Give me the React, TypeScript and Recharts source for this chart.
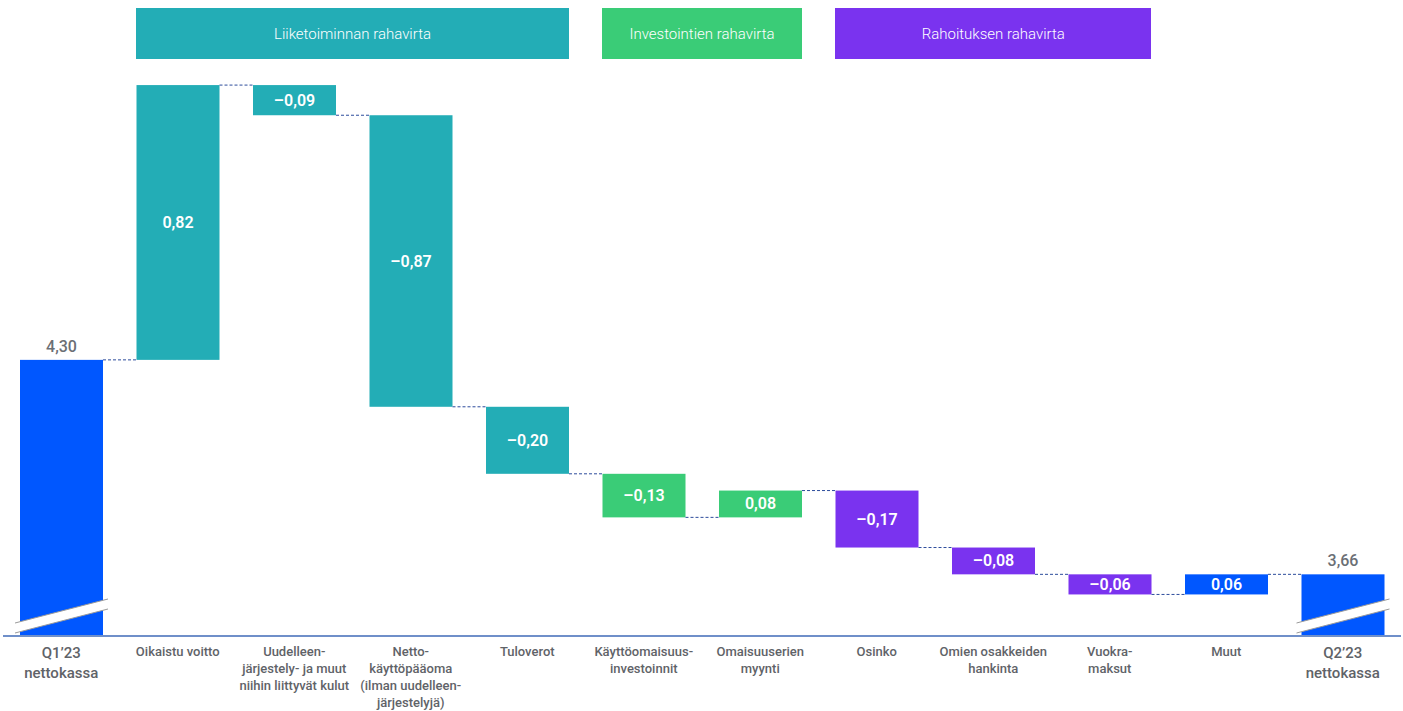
import { BarChart, Bar, XAxis, YAxis } from 'recharts'

const categories = [
  'Q1’23\nnettokassa',
  'Oikaistu voitto',
  'Uudelleen-\njärjestely- ja muut\nniihin liittyvät kulut',
  'Netto-\nkäyttöpääoma\n(ilman uudelleen-\njärjestelyjä)',
  'Tuloverot',
  'Käyttöomaisuus-\ninvestoinnit',
  'Omaisuuserien\nmyynti',
  'Osinko',
  'Omien osakkeiden\nhankinta',
  'Vuokra-\nmaksut',
  'Muut',
  'Q2’23\nnettokassa',
]
const values = [4.3, 0.82, -0.09, -0.87, -0.2, -0.13, 0.08, -0.17, -0.08, -0.06, 0.06, 3.66]
const kinds = ['total', 'op', 'op', 'op', 'op', 'inv', 'inv', 'fin', 'fin', 'fin', 'other', 'total']

const groupLabels = ['Liiketoiminnan rahavirta', 'Investointien rahavirta', 'Rahoituksen rahavirta']
const groupKinds = ['op', 'inv', 'fin']

const colors: Record<string, string> = {
  total: '#0057ff',
  other: '#0057ff',
  op: '#23adb6',
  inv: '#3acc77',
  fin: '#7a33ef',
}

// broken axis: bottom of the plot is not zero
const Y_MIN = 3.476
const Y_MAX = 5.165

const W = 1403
const H = 711
const AXIS_H = 75
const MARGIN = { top: 70, right: 2, bottom: 0, left: 3 }
const BAND = (W - MARGIN.left - MARGIN.right) / categories.length
const BAR_W = 83
const FONT = 'Roboto, "Noto Sans", sans-serif'

let running = 0
const data = categories.map((name, i) => {
  const v = values[i]
  const kind = kinds[i]
  if (kind === 'total') {
    running = v
    return { name, value: v, kind, range: [Y_MIN, v] }
  }
  const start = running
  running = Math.round((running + v) * 100) / 100
  return { name, value: v, kind, range: [Math.min(start, running), Math.max(start, running)] }
})

const fmt = (v: number) => (v < 0 ? '–' : '') + Math.abs(v).toFixed(2).replace('.', ',')

function WaterfallShape(props: any) {
  const { x, y, width, height, payload, index } = props
  const top = Math.min(y, y + height)
  const h = Math.abs(height)
  const bottom = top + h
  const isTotal = payload.kind === 'total'
  const endY = isTotal || payload.value >= 0 ? top : bottom
  const last = index === data.length - 1
  const gap = BAND - BAR_W
  return (
    <g>
      <rect x={x} y={top} width={width} height={h} fill={colors[payload.kind]} />
      {!last && (
        <line
          x1={x + width}
          x2={x + width + gap}
          y1={endY}
          y2={endY}
          stroke="#2d4c9c"
          strokeWidth={1}
          strokeDasharray="3 2"
        />
      )}
      {isTotal ? (
        <>
          <polygon
            points={`${x - 5},${bottom - 13} ${x + width + 5},${bottom - 37} ${x + width + 5},${bottom - 27} ${x - 5},${bottom - 3}`}
            fill="#fff"
          />
          <line x1={x - 5} y1={bottom - 13} x2={x + width + 5} y2={bottom - 37} stroke="#9a9a9a" strokeWidth={1} />
          <line x1={x - 5} y1={bottom - 3} x2={x + width + 5} y2={bottom - 27} stroke="#9a9a9a" strokeWidth={1} />
          <text
            x={x + width / 2}
            y={top - 8}
            textAnchor="middle"
            fill="#6b6f75"
            fontSize={16}
            fontWeight={500}
            fontFamily={FONT}
          >
            {fmt(payload.value)}
          </text>
        </>
      ) : (
        <text
          x={x + width / 2}
          y={top + h / 2}
          dy={5.5}
          textAnchor="middle"
          fill="#fff"
          fontSize={16}
          fontWeight={600}
          fontFamily={FONT}
        >
          {fmt(payload.value)}
        </text>
      )}
    </g>
  )
}

function CategoryTick(props: any) {
  const { x, y, payload } = props
  const idx = categories.indexOf(payload.value)
  const isTotal = kinds[idx] === 'total'
  const fs = isTotal ? 15 : 13
  const lh = isTotal ? 20 : 17
  const lines = String(payload.value).split('\n')
  return (
    <text
      x={x}
      y={y}
      textAnchor="middle"
      fill="#5f6368"
      fontSize={fs}
      fontWeight={500}
      fontFamily={FONT}
    >
      {lines.map((l, i) => (
        <tspan key={i} x={x} dy={i === 0 ? fs - 1 : lh}>
          {l}
        </tspan>
      ))}
    </text>
  )
}

export default function App() {
  const headers = groupKinds.map((k, gi) => {
    const idx = kinds.map((kk, i) => (kk === k ? i : -1)).filter((i) => i >= 0)
    const from = idx[0]
    const to = idx[idx.length - 1]
    const left = MARGIN.left + BAND * from + (BAND - BAR_W) / 2
    const right = MARGIN.left + BAND * to + (BAND + BAR_W) / 2
    return { label: groupLabels[gi], color: colors[k], left, width: right - left }
  })

  return (
    <div style={{ position: 'absolute', left: 0, top: 0, width: W, height: H, background: '#fff' }}>
      {headers.map((hd) => (
        <div
          key={hd.label}
          style={{
            position: 'absolute',
            left: hd.left,
            top: 8,
            width: hd.width,
            height: 51,
            background: hd.color,
            color: '#fff',
            fontFamily: FONT,
            fontSize: 15,
            fontWeight: 300,
            display: 'flex',
            alignItems: 'center',
            justifyContent: 'center',
          }}
        >
          {hd.label}
        </div>
      ))}
      <BarChart width={W} height={H} data={data} margin={MARGIN}>
        <XAxis
          dataKey="name"
          interval={0}
          height={AXIS_H}
          axisLine={{ stroke: '#6f8fc9', strokeWidth: 2 }}
          tickLine={false}
          tickSize={0}
          tickMargin={8}
          tick={<CategoryTick />}
        />
        <YAxis hide domain={[Y_MIN, Y_MAX]} allowDataOverflow />
        <Bar dataKey="range" barSize={BAR_W} isAnimationActive={false} shape={<WaterfallShape />} />
      </BarChart>
    </div>
  )
}
